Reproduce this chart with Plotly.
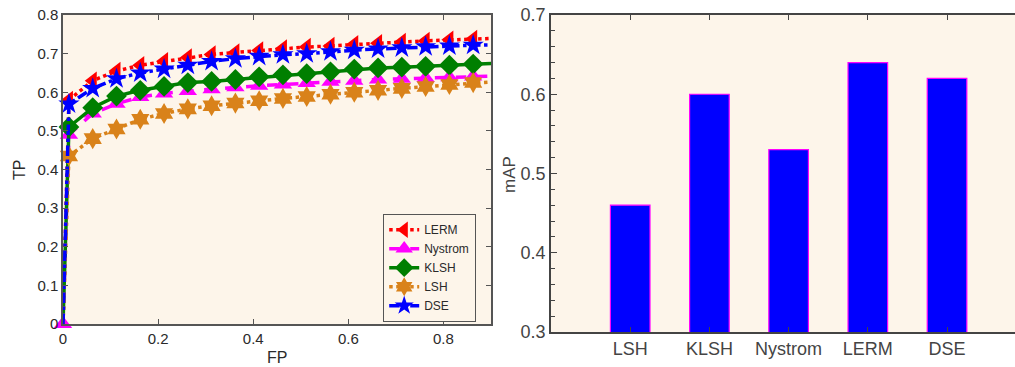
import plotly.graph_objects as go

# ---- data (left: TP vs FP curves) ----
fp = [0, 0.0125, 0.0625, 0.1125, 0.1625, 0.2125, 0.2625, 0.3125, 0.3625, 0.4125,
      0.4625, 0.5125, 0.5625, 0.6125, 0.6625, 0.7125, 0.7625, 0.8125, 0.8625, 0.9125]
tp_lerm = [0, 0.58, 0.63, 0.655, 0.67, 0.68, 0.69, 0.698, 0.703, 0.708,
           0.713, 0.717, 0.72, 0.724, 0.727, 0.73, 0.733, 0.736, 0.738, 0.740]
tp_nystrom = [0, 0.49, 0.545, 0.57, 0.588, 0.597, 0.603, 0.608, 0.613, 0.617,
              0.62, 0.624, 0.627, 0.63, 0.633, 0.635, 0.637, 0.639, 0.641, 0.642]
tp_klsh = [0, 0.51, 0.56, 0.59, 0.605, 0.615, 0.625, 0.628, 0.633, 0.64,
           0.645, 0.648, 0.653, 0.66, 0.663, 0.665, 0.667, 0.67, 0.673, 0.675]
tp_lsh = [0, 0.435, 0.48, 0.505, 0.53, 0.545, 0.557, 0.565, 0.572, 0.578,
          0.584, 0.589, 0.595, 0.60, 0.605, 0.61, 0.615, 0.62, 0.625, 0.628]
tp_dse = [0, 0.57, 0.61, 0.635, 0.65, 0.66, 0.67, 0.68, 0.687, 0.693,
          0.697, 0.70, 0.705, 0.709, 0.712, 0.715, 0.718, 0.72, 0.722, 0.723]

# ---- data (right: mAP bars) ----
methods = ["LSH", "KLSH", "Nystrom", "LERM", "DSE"]
map_values = [0.46, 0.60, 0.53, 0.64, 0.62]

W, H = 1015, 367
BG = "#FDF5EA"
TXT = "#2a2a2a"
FONT = "Liberation Sans, Arial, sans-serif"

def px(x):
    return x / W

def py(y):
    return 1 - y / H

n = len(fp)

def sizes(first_visible, s):
    out = [s] * n
    out[0] = s if first_visible else 0
    out[-1] = 0
    return out

series = [
    ("LERM", tp_lerm, "#FF0000", "dot", "triangle-left", False),
    ("Nystrom", tp_nystrom, "#FF00FF", "dash", "triangle-up", True),
    ("KLSH", tp_klsh, "#007F00", "solid", "diamond", False),
    ("LSH", tp_lsh, "#D9821A", "dot", "hexagram", False),
    ("DSE", tp_dse, "#0000FF", "dashdot", "star", False),
]

fig = go.Figure()
for name, ys, col, dash, sym, firstvis in series:
    fig.add_trace(go.Scatter(
        x=fp, y=ys, name=name, mode="lines+markers",
        line=dict(color=col, width=3.5, dash=dash),
        marker=dict(symbol=sym, color=col, size=sizes(firstvis, 16), opacity=1,
                    line=dict(width=0)),
        cliponaxis=False, xaxis="x", yaxis="y", showlegend=True,
    ))

fig.add_trace(go.Bar(
    x=methods, y=map_values, width=0.5,
    marker=dict(color="#0000FF", line=dict(color="#FF00FF", width=1.2)),
    xaxis="x2", yaxis="y2", showlegend=False,
))

left_dom_x = [px(63), px(491)]
left_dom_y = [py(324), py(15)]
right_dom_x = [px(551), 1.0]
right_dom_y = [py(332), py(15)]

fig.update_layout(
    template="none",
    width=W, height=H,
    margin=dict(l=0, r=0, t=0, b=0, pad=0),
    paper_bgcolor="white", plot_bgcolor=BG,
    font=dict(family=FONT, color=TXT),
    xaxis=dict(domain=left_dom_x, range=[0, 0.9], tickvals=[0, 0.2, 0.4, 0.6, 0.8],
               ticks="inside", ticklen=5, tickcolor="#555", showline=True, linecolor="#555",
               linewidth=1.5, mirror="ticks", showgrid=False, zeroline=False, automargin=False,
               tickfont=dict(size=15, color=TXT), anchor="y"),
    yaxis=dict(domain=left_dom_y, range=[0, 0.8], dtick=0.1,
               ticks="inside", ticklen=5, tickcolor="#555", showline=True, linecolor="#555",
               linewidth=1.5, mirror="ticks", showgrid=False, zeroline=False, automargin=False,
               tickfont=dict(size=15, color=TXT), anchor="x"),
    xaxis2=dict(domain=right_dom_x, range=[-1, 4.858], type="category",
                ticks="inside", ticklen=5, tickcolor="#444", showline=True, linecolor="#444",
                linewidth=1.5, mirror="ticks", showgrid=False, zeroline=False, automargin=False,
                tickfont=dict(size=18, color="#444"), anchor="y2"),
    yaxis2=dict(domain=right_dom_y, range=[0.3, 0.7], dtick=0.1,
                ticks="inside", ticklen=6, tickcolor="#444", showline=True, linecolor="#444",
                linewidth=1.5, showgrid=False, zeroline=False, automargin=False,
                minor=dict(dtick=0.02, ticks="inside", ticklen=4, tickcolor="#444"),
                tickfont=dict(size=18, color="#444"), anchor="x2"),
    legend=dict(x=px(383), y=py(268), xanchor="left", yanchor="middle",
                bgcolor=BG, bordercolor="#555", borderwidth=1.2,
                font=dict(size=12, color=TXT), itemwidth=30, tracegroupgap=0),
    bargap=0.5,
    annotations=[
        dict(text="TP", x=px(20), y=py(170), xref="paper", yref="paper", showarrow=False,
             xanchor="center", yanchor="middle",
             textangle=-90, font=dict(size=16, color=TXT)),
        dict(text="FP", x=px(277), y=py(357), xref="paper", yref="paper", showarrow=False,
             xanchor="center", yanchor="middle",
             font=dict(size=16, color=TXT)),
        dict(text="mAP", x=px(509), y=py(175), xref="paper", yref="paper", showarrow=False,
             xanchor="center", yanchor="middle",
             textangle=-90, font=dict(size=17, color="#444")),
    ],
)

fig.write_html(
    "out.html",
    config={"displayModeBar": False},
    post_script="document.body.style.margin='0';document.body.style.overflow='hidden';",
)
